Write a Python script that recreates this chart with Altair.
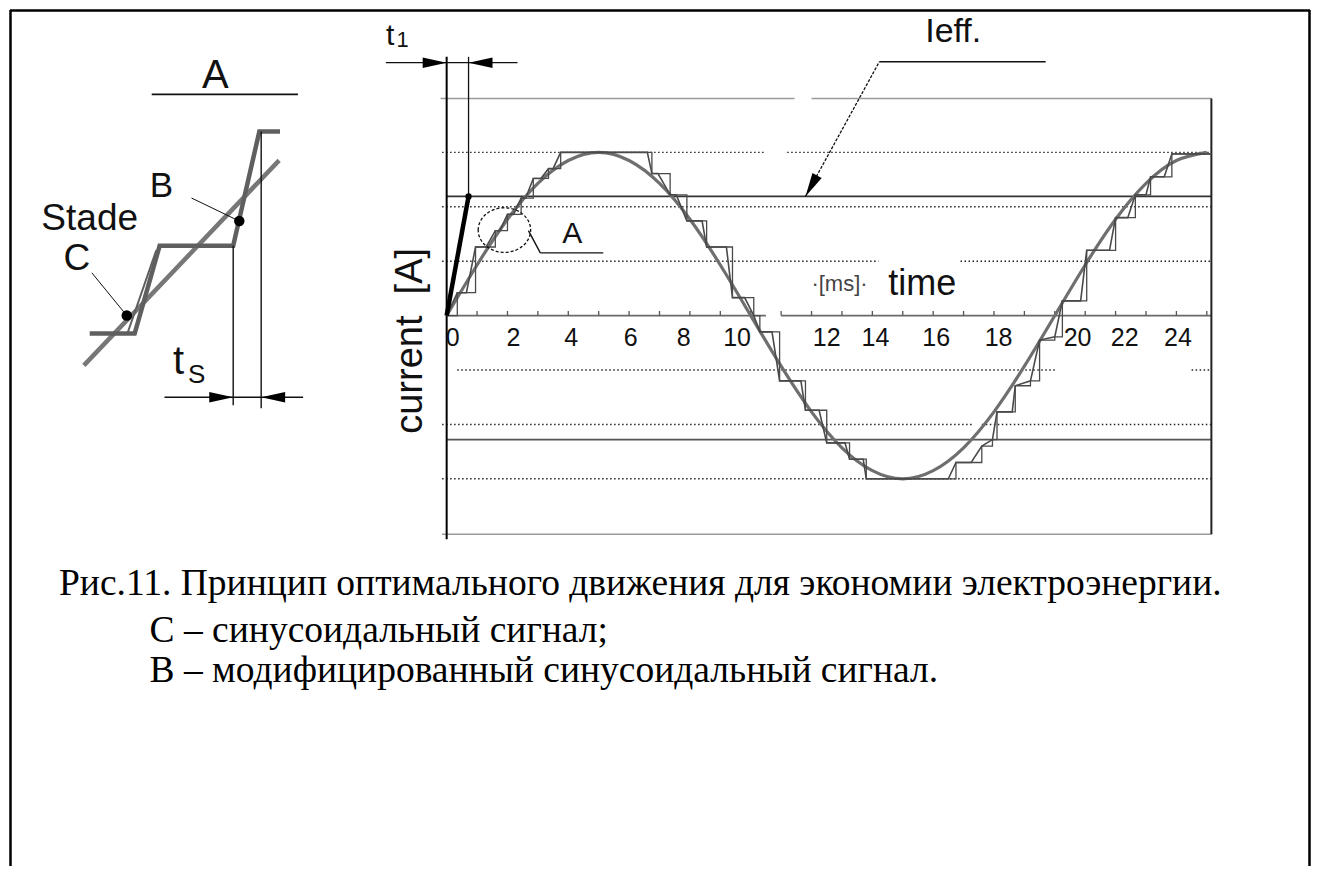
import altair as alt
import pandas as pd

# ---------------- data (time in ms, current in units of the peak) ----------------
sine_t = list(range(0, 26))
sine_v = [0.0, 0.31, 0.59, 0.81, 0.95, 1.0, 0.95, 0.81, 0.59, 0.31, 0.0, -0.31, -0.59,
          -0.81, -0.95, -1.0, -0.95, -0.81, -0.59, -0.31, 0.0, 0.31, 0.59, 0.81, 0.95, 1.0]

step_t = [0.0, 0.35, 0.65, 0.95, 1.3, 1.6, 1.75, 2.0, 2.2, 2.45, 2.6, 2.85, 3.1, 3.35, 3.5, 3.75,
          6.6, 6.75, 6.95, 7.35, 7.55, 7.9, 8.4, 8.55, 9.2, 9.4, 9.8, 10.1, 10.3, 10.7, 10.95,
          11.65, 11.8, 12.25, 12.5, 13.1, 13.25, 13.7, 13.8,
          16.5, 16.75, 17.25, 17.6, 17.95, 18.1, 18.6, 18.7, 19.2, 19.5, 20.0, 20.25, 20.85,
          21.05, 21.8, 22.0, 22.4, 22.65, 23.0, 23.15, 23.6, 23.85, 25.15]
step_v = [0.0, 0.14, 0.14, 0.42, 0.42, 0.52, 0.52, 0.62, 0.62, 0.72, 0.72, 0.84, 0.84, 0.9, 0.9, 1.0,
          1.0, 0.87, 0.87, 0.74, 0.74, 0.58, 0.58, 0.42, 0.42, 0.11, 0.11, 0.0, -0.1, -0.1, -0.4,
          -0.4, -0.58, -0.58, -0.78, -0.78, -0.88, -0.88, -1.0,
          -1.0, -0.9, -0.9, -0.8, -0.76, -0.59, -0.59, -0.43, -0.4, -0.15, -0.13, 0.09, 0.09,
          0.4, 0.4, 0.6, 0.6, 0.74, 0.74, 0.85, 0.85, 0.99, 0.99]

tick_ms = list(range(0, 26))
tick_label_text = ["0", "2", "4", "6", "8", "10", "12", "14", "16", "18", "20", "22", "24"]
tick_label_t = [0.2, 2.2, 4.1, 6.05, 7.8, 9.55, 12.5, 14.1, 16.1, 18.15, 20.75, 22.3, 24.05]

# dotted grid levels (segments, with the gaps seen in the scan)
dot_t1 = [-0.15, 11.2, -0.15, -0.15, 16.9, 0.35, 24.5, -0.15, 17.6, -0.15]
dot_t2 = [10.5, 25.15, 25.15, 14.2, 25.15, 20.0, 25.15, 17.3, 25.15, 25.15]
dot_v = [1.0, 1.0, 0.667, 0.333, 0.333, -0.333, -0.333, -0.667, -0.667, -1.0]

# solid levels
ieff_level = 0.73
low_level = -0.76
top_level = 1.33
bottom_level = -1.34
t_end = 25.15
t1_ms = 0.72

# inset "A" (zoomed detail), drawn in the same figure units
inset_c_t = [-11.93, -5.51]
inset_c_v = [-0.305, 0.951]
inset_b_t = [-11.74, -10.26, -9.44, -7.02, -6.16, -5.48]
inset_b_v = [-0.11, -0.11, 0.427, 0.427, 1.128, 1.128]

caption_1 = "Рис.11. Принцип оптимального движения для экономии электроэнергии."
caption_2 = "С – синусоидальный сигнал;"
caption_3 = "В – модифицированный синусоидальный сигнал."

# ---------------- scales ----------------
W, H = 1304, 860
X0, KX = 438.0, 30.5      # pixel of t=0 and pixels per ms
Y0, KY = 307.0, 164.0     # pixel of current=0 and pixels per unit
XD = [-X0 / KX, (W - X0) / KX]
YD = [(Y0 - H) / KY, Y0 / KY]
xs = alt.Scale(domain=XD, nice=False, zero=False)
ys = alt.Scale(domain=YD, nice=False, zero=False)


def X(f):
    return alt.X(f, type="quantitative", scale=xs, axis=None)


def Y(f):
    return alt.Y(f, type="quantitative", scale=ys, axis=None)


def rules(df, color, width, dash=None):
    kw = dict(color=color, strokeWidth=width)
    if dash:
        kw["strokeDash"] = dash
    return alt.Chart(df).mark_rule(**kw).encode(
        x=X("x1"), x2="x2", y=Y("y1"), y2="y2")


def seg(rows):
    return pd.DataFrame(rows, columns=["x1", "y1", "x2", "y2"])


layers = []

# frame of the page
eps_x = 0.5 / KX
eps_y = 0.5 / KY
frame = seg([[XD[0] + eps_x, YD[1], XD[0] + eps_x, YD[0]],
             [XD[0], YD[1] - eps_y, XD[1], YD[1] - eps_y],
             [XD[1] - eps_x, YD[1], XD[1] - eps_x, YD[0]]])
layers.append(rules(frame, "#000", 2.5))

# dotted grid
dots = seg([[a, v, b, v] for a, b, v in zip(dot_t1, dot_t2, dot_v)])
layers.append(rules(dots, "#222", 1.4, [1.5, 2.5]))

# solid levels
layers.append(rules(seg([[-0.2, top_level, 11.44, top_level],
                         [12.0, top_level, t_end, top_level],
                         [-0.15, bottom_level, t_end, bottom_level]]), "#9a9a9a", 1.6))
layers.append(rules(seg([[0, 0, 10.5, 0], [11.0, 0, t_end, 0]]), "#6a6a6a", 1.8))
layers.append(rules(seg([[0, ieff_level, t_end, ieff_level]]), "#333", 1.6))
layers.append(rules(seg([[0, low_level, t_end, low_level]]), "#555", 1.6))

# ticks on the time axis
ticks = seg([[t, 0, t, 0.028] for t in tick_ms])
layers.append(rules(ticks, "#555", 1.3))

# axes borders
layers.append(rules(seg([[t_end, bottom_level, t_end, top_level]]), "#222", 2.0))
layers.append(rules(seg([[0, -1.37, 0, 1.585]]), "#000", 2.0))

# sine (C) and modified signal (B)
sine_df = pd.DataFrame({"t": sine_t, "v": sine_v})
layers.append(alt.Chart(sine_df).mark_line(color="#6f6f6f", strokeWidth=3.2,
                                           interpolate="natural").encode(x=X("t"), y=Y("v")))
step_df = pd.DataFrame({"t": step_t, "v": step_v, "i": range(len(step_t))})
layers.append(alt.Chart(step_df).mark_line(color="#4a4a4a", strokeWidth=1.6).encode(
    x=X("t"), y=Y("v"), order="i:Q"))
layers.append(alt.Chart(step_df).mark_line(color="#4a4a4a", strokeWidth=1.3,
                                           interpolate="step-after").encode(
    x=X("t"), y=Y("v"), order="i:Q"))

# t1 construction
layers.append(rules(seg([[t1_ms, ieff_level, t1_ms, 1.585],
                         [-2.0, 1.549, 2.33, 1.549]]), "#111", 1.3))
layers.append(rules(seg([[0, 0, t1_ms, ieff_level]]), "#000", 4.5))

# Ieff leader
layers.append(rules(seg([[11.8, ieff_level, 14.23, 1.555]]), "#111", 1.3, [3, 1.5]))
layers.append(rules(seg([[14.23, 1.555, 19.7, 1.555]]), "#111", 1.5))

# A circle leader
layers.append(rules(seg([[2.69, 0.52, 3.08, 0.384], [3.08, 0.384, 5.15, 0.384]]), "#111", 1.4))
ell = pd.DataFrame({"t": [1.9], "v": [0.524]})
layers.append(alt.Chart(ell).mark_point(
    shape="M-1,0A1,0.85,0,1,1,1,0A1,0.85,0,1,1,-1,0Z", size=2750, filled=False,
    color="#111", strokeWidth=1.3, strokeDash=[3, 2], opacity=1).encode(x=X("t"), y=Y("v")))

# inset A
layers.append(rules(seg([[-9.70, 1.355, -4.89, 1.355]]), "#111", 1.6))
c_df = pd.DataFrame({"t": inset_c_t, "v": inset_c_v})
layers.append(alt.Chart(c_df).mark_line(color="#777", strokeWidth=4.5).encode(x=X("t"), y=Y("v")))
b_df = pd.DataFrame({"t": inset_b_t, "v": inset_b_v, "i": range(len(inset_b_t))})
layers.append(alt.Chart(b_df).mark_line(color="#5f5f5f", strokeWidth=4.5).encode(
    x=X("t"), y=Y("v"), order="i:Q"))
layers.append(rules(seg([[-10.5, -0.11, -9.55, 0.40]]), "#5f5f5f", 2.0))
layers.append(rules(seg([[-7.02, 0.427, -7.02, -0.549],
                         [-6.10, 1.128, -6.10, -0.567],
                         [-9.28, -0.5, -4.72, -0.5]]), "#111", 1.4))
layers.append(rules(seg([[-10.52, 0.0, -11.67, 0.262],
                         [-6.82, 0.579, -8.39, 0.72]]), "#111", 1.0))
dots_df = pd.DataFrame({"t": [-10.52, -6.82, t1_ms], "v": [0.0, 0.579, ieff_level],
                        "s": [110, 110, 40]})
layers.append(alt.Chart(dots_df).mark_point(filled=True, color="#000", opacity=1).encode(
    x=X("t"), y=Y("v"), size=alt.Size("s:Q", scale=None)))

# arrowheads (tip at the data point)
arr = pd.DataFrame({
    "t": [0.0, t1_ms, 11.8, -7.02, -6.10],
    "v": [1.549, 1.549, ieff_level, -0.5, -0.5],
    "ang": [0, 180, 119, 0, 180],
})
layers.append(alt.Chart(arr).mark_point(
    shape="M0,0L-1,-0.22L-1,0.22Z", size=2300, filled=True, color="#000", opacity=1).encode(
    x=X("t"), y=Y("v"), angle=alt.Angle("ang:Q", scale=None)))

# texts
txt = pd.DataFrame([
    ["t", -1.86, 1.713, 30, 0],
    ["1", -1.45, 1.69, 22, 0],
    ["Ieff.", 16.66, 1.738, 34, 0],
    ["A", 4.13, 0.50, 30, 0],
    ["time", 15.64, 0.195, 36, 0],
    ["current\u00a0\u00a0[A]", -1.18, -0.155, 38, 270],
    ["A", -7.61, 1.47, 40, 0],
    ["Stade", -11.74, 0.591, 37, 0],
    ["B", -9.38, 0.793, 35, 0],
    ["C", -12.16, 0.348, 37, 0],
    ["t", -8.82, -0.287, 40, 0],
    ["S", -8.22, -0.365, 26, 0],
], columns=["text", "t", "v", "size", "ang"])
layers.append(alt.Chart(txt).mark_text(font="Liberation Sans", color="#111", baseline="middle",
                                       align="center").encode(
    x=X("t"), y=Y("v"), text="text:N", size=alt.Size("size:Q", scale=None),
    angle=alt.Angle("ang:Q", scale=None)))
ms_df = pd.DataFrame({"t": [12.92], "v": [0.195], "text": ["·[ms]·"]})
layers.append(alt.Chart(ms_df).mark_text(font="Liberation Sans", color="#444", fontSize=22,
                                         baseline="middle").encode(x=X("t"), y=Y("v"), text="text:N"))
lab = pd.DataFrame({"t": tick_label_t, "v": [-0.135] * len(tick_label_t), "text": tick_label_text})
layers.append(alt.Chart(lab).mark_text(font="Liberation Sans", color="#111", fontSize=25,
                                       baseline="middle").encode(x=X("t"), y=Y("v"), text="text:N"))

cap = pd.DataFrame({"t": [-12.75, -9.77, -9.77], "v": [-1.646, -1.933, -2.177],
                    "text": [caption_1, caption_2, caption_3]})
layers.append(alt.Chart(cap).mark_text(font="Liberation Serif", color="#000", fontSize=37.5,
                                       align="left", baseline="middle").encode(
    x=X("t"), y=Y("v"), text="text:N"))

chart = alt.layer(*layers).properties(
    width=W, height=H, padding=0,
    autosize=alt.AutoSizeParams(type="fit", contains="padding"),
).configure_view(stroke=None)

chart.save("out.html", embed_options={"renderer": "svg", "actions": False})
